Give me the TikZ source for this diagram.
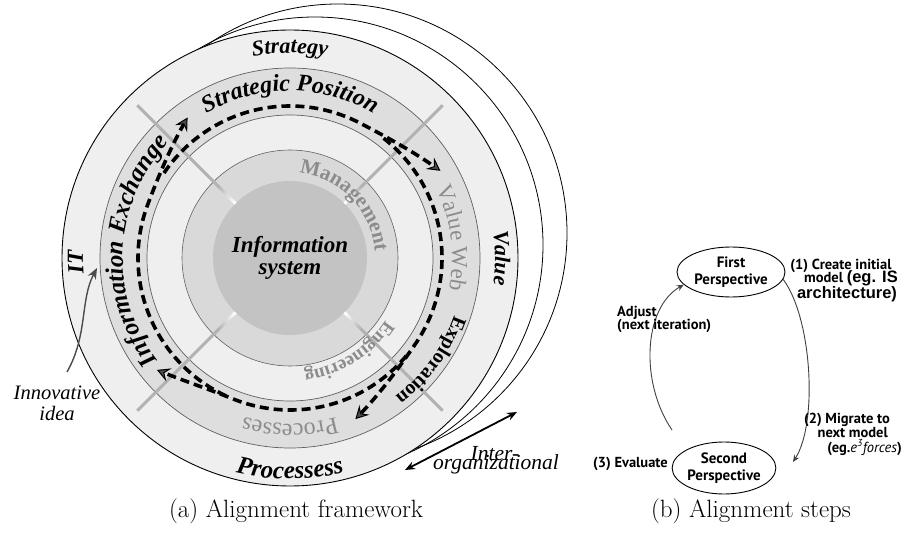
\documentclass[tikz,border=0pt]{standalone}
\usepackage{fontspec}
\usetikzlibrary{arrows.meta,decorations.text,shapes.geometric,calc}
\newfontfamily\tms{Liberation Serif}
\newfontfamily\pts{PT Sans}
\newfontfamily\ars{Liberation Sans}
\definecolor{ring}{HTML}{EFEFEF}
\definecolor{band}{HTML}{DEDEDE}
\definecolor{mgmt}{HTML}{D9D9D9}
\definecolor{disc}{HTML}{C3C3C3}
\definecolor{diag}{HTML}{B2B2B2}
\definecolor{gtext}{HTML}{8C8C8C}
\definecolor{bandline}{HTML}{606060}
\newcommand\cwtext[4]{%
  \pgfmathsetmacro\aA{#2+#3}\pgfmathsetmacro\aB{#2-#3}%
  \path[decorate,decoration={text along path,text align=center,text={#4}}]
    ($(C)+(\aA:#1)$) arc[start angle=\aA,end angle=\aB,radius=#1];}
\newcommand\ccwtext[4]{%
  \pgfmathsetmacro\aA{#2-#3}\pgfmathsetmacro\aB{#2+#3}%
  \path[decorate,decoration={text along path,text align=center,text={#4}}]
    ($(C)+(\aA:#1)$) arc[start angle=\aA,end angle=\aB,radius=#1];}
\tikzset{
  orgline/.style={line width=0.8pt,draw=black},
  diagline/.style={line width=3pt,draw=diag},
  dasharr/.style={line width=3.6pt,dash pattern=on 9pt off 5pt,
    -{Stealth[length=13pt,width=14pt,inset=5pt,line width=1pt,fill=black!70]}},
  conn/.style={line width=0.9pt,draw=black!75,-{Stealth[length=7pt,width=6pt]}},
  lbl/.style={inner sep=0pt,font=\pts\bfseries\fontsize{14.5}{17}\selectfont},
  arl/.style={inner sep=0pt,font=\ars\bfseries\fontsize{16.5}{20}\selectfont},
  persp/.style={ellipse,draw,line width=0.9pt,inner sep=0pt,align=center,
    font=\pts\bfseries\fontsize{15}{17}\selectfont},
  itl/.style={inner sep=0pt,font=\tms\itshape\fontsize{21.5}{22}\selectfont},
  captxt/.style={inner sep=0pt,anchor=base,font=\fontsize{25}{30}\selectfont},
}
\begin{document}
\begin{tikzpicture}[x=1pt,y=1pt]
\useasboundingbox (0,0) rectangle (904,533);
\fill[white] (0,0) rectangle (904,533);
\coordinate (C) at (290,275);
% inter-organizational circles
\draw[orgline] ($(C)+(48,25)$) circle[radius=229];
\draw[orgline] ($(C)+(25,13)$) circle[radius=228];
% rings
\draw[fill=ring,line width=0.9pt] (C) circle[radius=228];
\draw[fill=band,draw=bandline,line width=0.7pt] (C) circle[radius=190];
\draw[fill=ring,draw=bandline,line width=0.7pt] (C) circle[radius=143];
\draw[fill=mgmt,draw=bandline,line width=0.6pt] (C) circle[radius=108];
\fill[disc] (C) circle[radius=77];
% diagonal lines
\foreach \a in {45,135,225,315}{
  \draw[diagline] ($(C)+(\a:100)$) -- ($(C)+(\a:216)$);
  \foreach \k in {0,...,9}{
    \pgfmathsetmacro\ra{77+2.3*\k}
    \pgfmathsetmacro\rb{\ra+2.5}
    \pgfmathtruncatemacro\pc{10*\k}
    \draw[line width=3pt,draw=diag!\pc!white] ($(C)+(\a:\ra)$) -- ($(C)+(\a:\rb)$);
  }
}
% ring texts
\cwtext{205}{90}{40}{|\tms\bfseries\itshape\fontsize{22}{22}\selectfont|Strategy}
\cwtext{205}{0}{40}{|\tms\bfseries\itshape\fontsize{22}{22}\selectfont|Value}
\cwtext{207}{181}{30}{|\tms\bfseries\itshape\fontsize{23}{23}\selectfont|IT}
\ccwtext{221}{270}{40}{|\tms\bfseries\itshape\fontsize{25}{25}\selectfont|Processess}
\cwtext{167}{90}{60}{|\tms\bfseries\itshape\fontsize{24}{24}\selectfont|Strategic Position}
\cwtext{167}{177}{70}{|\tms\bfseries\itshape\fontsize{25}{25}\selectfont|Information Exchange}
\cwtext{162}{7}{40}{|\tms\fontsize{23}{23}\selectfont\color{gtext}|Value Web}
\cwtext{174}{-36}{40}{|\tms\bfseries\fontsize{20}{20}\selectfont|Exploration}
\cwtext{166}{270}{40}{|\tms\fontsize{24}{24}\selectfont\color{gtext}|Processes}
\cwtext{85}{44}{60}{|\tms\bfseries\fontsize{21}{21}\selectfont\color{gtext}|Management}
\cwtext{114}{-58}{40}{|\tms\bfseries\fontsize{19}{19}\selectfont\color{gtext}|Engineering}
% dashed arrows
\begin{scope}[shift={(C)}]
\foreach \s/\e in {245/126,146/30,52/-68,-40/-140}{
  \draw[dasharr] plot[variable=\t,domain=0:1,samples=60,smooth]
    ({\s+(\e-\s)*\t}:{152+22*pow(max(0,(\t-0.72)/0.28),2)});
}
\end{scope}
\node[font=\tms\bfseries\itshape\fontsize{23}{22}\selectfont,align=center,inner sep=0pt] (is) at (C) {Information\\system};
% innovative idea
\node[font=\tms\itshape\fontsize{20.5}{21}\selectfont,align=center,inner sep=0pt] (innov) at (57,129.5) {Innovative\\idea};
\coordinate (innovfoot) at (67,161);
\coordinate (innovtip) at (97,265);
\draw[line width=1.4pt,draw=black!70,-{Stealth[length=11pt,width=9pt,fill=black!70]}]
  (innovfoot) .. controls (88,198) and (80,233) .. (innovtip);
% inter-organizational
\node[itl,anchor=base] (inter1) at (495,73) {Inter-};
\node[itl,anchor=base] (inter2) at (496,64) {organizational};
\coordinate (ioA) at (405,63);
\coordinate (ioB) at (517,121);
\draw[line width=1.8pt,{Stealth[length=10pt,width=8pt]}-{Stealth[length=10pt,width=8pt]}] (ioA) -- (ioB);
% captions
\node[captxt] (capa) at (296,16) {(a) Alignment framework};
\node[captxt] (capb) at (751,16) {(b) Alignment steps};
% alignment steps
\node[persp,minimum width=108pt,minimum height=50pt] (first) at (731,261) {First\\Perspective};
\node[persp,minimum width=95pt,minimum height=52pt] (second) at (724,65) {Second\\Perspective};
\coordinate (rtip) at (793,71);
\draw[conn] (first.-8) .. controls (812,215) and (818,110) .. (rtip);
\coordinate (ltail) at (672,103);
\draw[conn] (ltail) .. controls (640,150) and (643,225) .. (first.195);
\node[lbl,anchor=base] (l1a) at (841,263) {(1) Create initial};
\node[lbl,anchor=base] (l1b) at (851,250) {model {\ars\fontsize{16.5}{20}\selectfont(eg. IS}};
\node[arl,anchor=base] (l1c) at (847,234) {architecture)};
\node[lbl,anchor=base west] (l3a) at (617,216) {Adjust};
\node[lbl,anchor=base west] (l3b) at (617,203) {(next iteration)};
\node[lbl,anchor=base east] (l2a) at (890,110) {(2) Migrate to};
\node[lbl,anchor=base east] (l2b) at (888,96) {next model};
\node[lbl,anchor=base east] (l2c) at (902,81) {(eg.{\mdseries\itshape e\textsuperscript{3}forces})};
\node[lbl,anchor=base east] (l4) at (668,66) {(3) Evaluate};
\end{tikzpicture}
\end{document}
